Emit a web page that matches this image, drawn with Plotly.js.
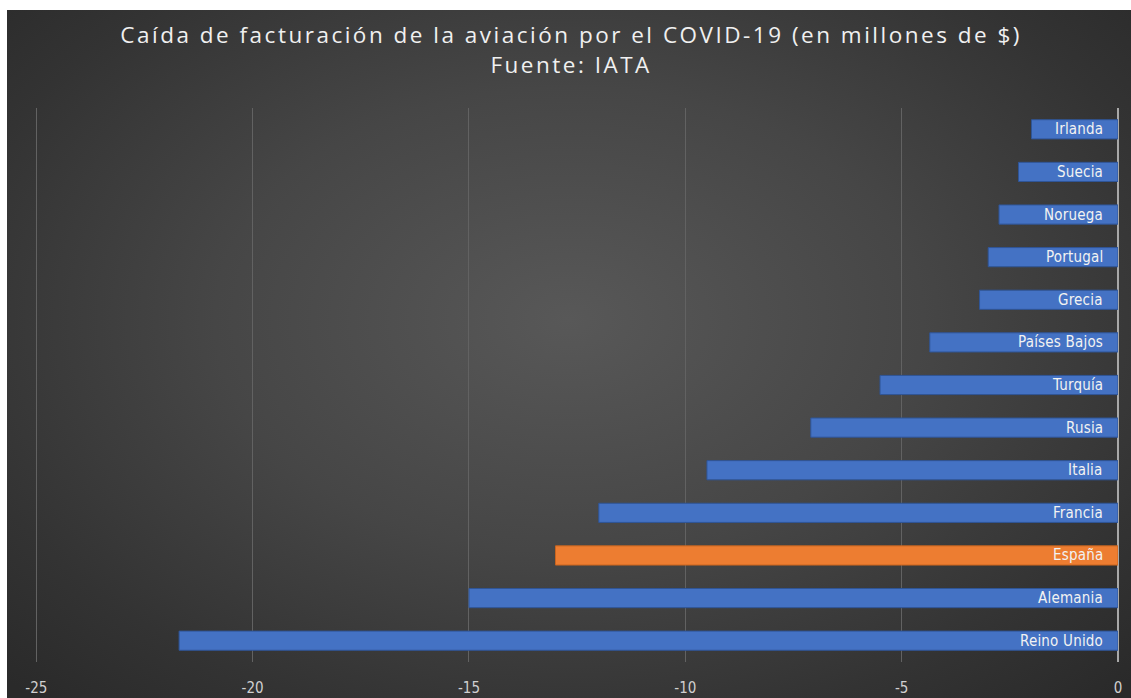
<!DOCTYPE html>
<html>
<head>
<meta charset="utf-8">
<script src="https://cdn.plot.ly/plotly-3.0.1.min.js"></script>
<style>
  html, body { margin: 0; padding: 0; background: #ffffff; }
  #wrap { position: absolute; left: 7px; top: 10px; width: 1124px; height: 688px;
    background: radial-gradient(ellipse 70% 75% at 50% 45%, #585858 0%, #464646 45%, #333333 80%, #2a2a2a 100%); }
  #chart { position: absolute; left: -7px; top: -10px; width: 1131px; height: 698px; }
  .gtitle { letter-spacing: 2.5px; }
  .annotation-text { letter-spacing: 0.2px; }
</style>
</head>
<body>
<div id="wrap"><div id="chart"></div></div>
<script>
const countries = ["Reino Unido", "Alemania", "España", "Francia", "Italia", "Rusia", "Turquía", "Países Bajos", "Grecia", "Portugal", "Noruega", "Suecia", "Irlanda"];
const values = [-21.7, -15.0, -13.0, -12.0, -9.5, -7.1, -5.5, -4.35, -3.2, -3.0, -2.75, -2.3, -2.0];
const highlight = "España";
const xTicks = [-25, -20, -15, -10, -5, 0];

const colors = countries.map(c => c === highlight ? "#ed7d31" : "#4472c4");
const lineColors = countries.map(c => c === highlight ? "#c8641f" : "#2f5597");

const trace = {
  type: "bar",
  orientation: "h",
  y: countries,
  x: values,
  marker: { color: colors, line: { color: lineColors, width: 1 } },
  width: 0.45,
  hoverinfo: "x+y"
};

const annotations = countries.map(c => ({
  x: 0, y: c, xref: "x", yref: "y",
  text: c, showarrow: false, xanchor: "right", xshift: -13,
  font: { family: "DejaVu Sans Condensed, Liberation Sans Narrow, Roboto, sans-serif", size: 15, color: "#f2f2f2" }
}));

const layout = {
  width: 1131, height: 698,
  paper_bgcolor: "rgba(0,0,0,0)",
  plot_bgcolor: "rgba(0,0,0,0)",
  margin: { l: 35, r: 13, t: 108, b: 36 },
  title: {
    text: "Caída de facturación de la aviación por el COVID-19 (en millones de $)<br>Fuente: IATA",
    font: { family: "Open Sans, Lato, sans-serif", size: 22.5, color: "#f0f0f0" },
    x: 0.505, xanchor: "center", y: 0.938, yanchor: "top"
  },
  xaxis: {
    range: [-25.03, 0],
    tickvals: xTicks,
    ticktext: xTicks.map(String),
    showgrid: true, gridcolor: "#626262", gridwidth: 1,
    zeroline: true, zerolinecolor: "#a8a8a8", zerolinewidth: 1.5,
    showline: false, ticks: "outside", ticklen: 12, tickcolor: "rgba(0,0,0,0)",
    tickfont: { family: "DejaVu Sans Condensed, Roboto, sans-serif", size: 15, color: "#d0d0d0" },
    fixedrange: true
  },
  yaxis: {
    categoryorder: "array", categoryarray: countries,
    showticklabels: false, showgrid: false, zeroline: false, showline: false,
    range: [-0.5, countries.length - 0.5],
    fixedrange: true
  },
  annotations: annotations,
  showlegend: false,
  bargap: 0.55
};

Plotly.newPlot("chart", [trace], layout, { displayModeBar: false, staticPlot: true });
</script>
</body>
</html>
